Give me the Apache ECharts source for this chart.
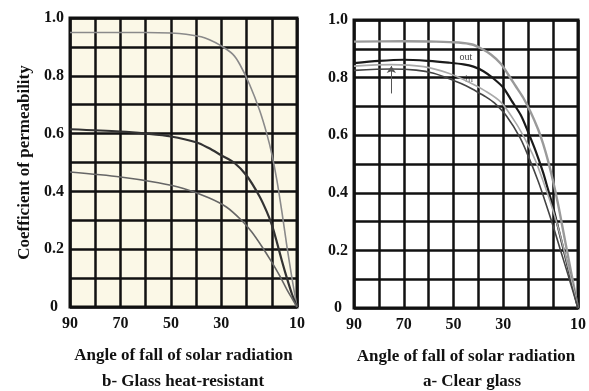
<!DOCTYPE html>
<html><head><meta charset="utf-8">
<script src="https://cdn.jsdelivr.net/npm/echarts@6/dist/echarts.min.js"></script>
<style>html,body{margin:0;padding:0;background:#fff}#c{width:589px;height:391px}</style>
</head><body><div id="c"></div>
<script>
// Tick labels
const xTickValues = [90, 70, 50, 30, 0];
const xTickTexts  = ['90', '70', '50', '30', '10'];
const yTickValues = [0, 0.2, 0.4, 0.6, 0.8, 1.0];
const yTickTexts  = ['0', '0.2', '0.4', '0.6', '0.8', '1.0'];

// Panel b - Glass heat-resistant
const b1X = [90, 60, 50, 44, 38, 34.7, 30.7, 25.5, 22.7, 18.8, 14.8, 12, 10, 8, 6, 4, 2, 0];
const b1Y = [0.95, 0.95, 0.948, 0.944, 0.935, 0.925, 0.907, 0.875, 0.84, 0.77, 0.68, 0.60, 0.53, 0.44, 0.33, 0.21, 0.10, 0];
const b2X = [90, 70, 60, 50, 40, 35, 30, 25, 20, 15, 12, 10, 8, 6, 4, 2, 0];
const b2Y = [0.615, 0.607, 0.60, 0.59, 0.57, 0.55, 0.525, 0.50, 0.455, 0.385, 0.33, 0.285, 0.225, 0.16, 0.10, 0.045, 0];
const b3X = [90, 70, 55, 45, 35, 28, 22, 18, 14, 10, 7, 4, 2, 0];
const b3Y = [0.467, 0.45, 0.43, 0.41, 0.378, 0.346, 0.30, 0.26, 0.21, 0.155, 0.11, 0.06, 0.03, 0];

// Panel a - Clear glass
const a1X = [90, 70, 57, 48, 42.5, 38.7, 35, 31, 28, 25, 22, 19, 16, 14, 12, 10, 8, 6, 4, 2, 0];
const a1Y = [0.925, 0.926, 0.925, 0.922, 0.915, 0.90, 0.88, 0.848, 0.81, 0.77, 0.73, 0.68, 0.62, 0.57, 0.51, 0.44, 0.36, 0.27, 0.18, 0.09, 0];
const a2X = [90, 80, 70, 60, 52, 46, 42, 38, 34, 30, 26.7, 23, 20, 17, 14, 12, 10, 8, 6, 4, 2, 0];
const a2Y = [0.85, 0.858, 0.862, 0.858, 0.852, 0.846, 0.838, 0.822, 0.797, 0.765, 0.72, 0.67, 0.61, 0.545, 0.47, 0.41, 0.35, 0.28, 0.21, 0.14, 0.07, 0];
const a3X = [90, 75, 65, 58, 50, 45, 41.4, 37, 33.6, 28.6, 23.2, 19.4, 16, 13, 10, 7, 4, 2, 0];
const a3Y = [0.825, 0.83, 0.826, 0.815, 0.79, 0.772, 0.755, 0.733, 0.712, 0.665, 0.59, 0.515, 0.44, 0.365, 0.285, 0.20, 0.115, 0.057, 0];
const a4X = [90, 75, 62, 52, 44, 37.5, 31, 24.8, 20, 17, 14, 11, 8, 5, 2, 0];
const a4Y = [0.84, 0.845, 0.838, 0.815, 0.785, 0.755, 0.715, 0.64, 0.565, 0.51, 0.44, 0.365, 0.28, 0.18, 0.075, 0];
const arrowX = [75, 75];
const arrowY = [0.745, 0.84];

const FONT = '"Liberation Serif","Times New Roman",serif';
function pairs(xs, ys) { return xs.map((x, i) => [x, ys[i]]); }
function lookup(vals, texts, v) {
  const i = vals.findIndex(t => Math.abs(t - v) < 1e-6);
  return i < 0 ? '' : texts[i];
}
const gridLine = { show: true, lineStyle: { color: '#111', width: 2.5 } };
function mkX(gi, name) {
  return {
    gridIndex: gi, type: 'value', min: 0, max: 90, interval: 10, inverse: true,
    name: name, nameLocation: 'middle', nameGap: 40,
    nameTextStyle: { fontFamily: FONT, fontWeight: 'bold', fontSize: 17, color: '#111' },
    axisLine: { show: false }, axisTick: { show: false }, splitLine: gridLine,
    axisLabel: { showMinLabel: true, showMaxLabel: true, margin: 9, fontFamily: FONT, fontWeight: 'bold', fontSize: 16, color: '#111',
      formatter: v => lookup(xTickValues, xTickTexts, v) }
  };
}
function mkY(gi, name) {
  return {
    gridIndex: gi, type: 'value', min: 0, max: 1, interval: 0.1,
    name: name, nameLocation: 'middle', nameGap: 37, nameRotate: 90,
    nameTextStyle: { fontFamily: FONT, fontWeight: 'bold', fontSize: 17, color: '#111' },
    axisLine: { show: false }, axisTick: { show: false }, splitLine: gridLine,
    axisLabel: { showMinLabel: true, showMaxLabel: true, align: 'center', margin: 16, fontFamily: FONT, fontWeight: 'bold', fontSize: 16, color: '#111',
      formatter: v => lookup(yTickValues, yTickTexts, v) }
  };
}
function line(gi, xs, ys, color, width, extra) {
  return Object.assign({
    type: 'line', xAxisIndex: gi, yAxisIndex: gi, data: pairs(xs, ys),
    smooth: 0.3, symbol: 'none', silent: true,
    lineStyle: { color: color, width: width }
  }, extra || {});
}
const chart = echarts.init(document.getElementById('c'), null, { renderer: 'canvas' });
chart.setOption({
  animation: false,
  backgroundColor: '#fff',
  grid: [
    { left: 70, top: 18, width: 227, height: 289, show: true, backgroundColor: '#fbf8e7', borderColor: '#111', borderWidth: 3 },
    { left: 354, top: 20, width: 233, height: 288, show: true, backgroundColor: '#fff', borderColor: '#111', borderWidth: 3 }
  ],
  xAxis: [mkX(0, 'Angle of fall of solar radiation'), mkX(1, 'Angle of fall of solar radiation')],
  yAxis: [mkY(0, 'Coefficient of permeability'), mkY(1, '')],
  series: [
    line(0, b1X, b1Y, '#8a8a8a', 1.6),
    line(0, b2X, b2Y, '#333', 2.2),
    line(0, b3X, b3Y, '#666', 1.6),
    line(1, a1X, a1Y, '#9a9a9a', 2.4),
    line(1, a2X, a2Y, '#1a1a1a', 2.2),
    line(1, a4X, a4Y, '#aaa', 1.6),
    line(1, a3X, a3Y, '#444', 1.6, {
      markLine: { silent: true, symbol: ['none', 'arrow'], symbolSize: 7, label: { show: false },
        lineStyle: { color: '#555', width: 1, type: 'solid' },
        data: [[{ coord: [arrowX[0], arrowY[0]] }, { coord: [arrowX[1], arrowY[1]] }]] }
    })
  ],
  graphic: [
    { type: 'text', x: 183, y: 382, style: { text: 'b- Glass heat-resistant', font: 'bold 17px ' + FONT, fill: '#111', align: 'center', verticalAlign: 'middle' } },
    { type: 'text', x: 472, y: 382, style: { text: 'a- Clear glass', font: 'bold 17px ' + FONT, fill: '#111', align: 'center', verticalAlign: 'middle' } },
    { type: 'text', x: 466, y: 57, style: { text: 'out', font: '10px ' + FONT, fill: '#444', align: 'center', verticalAlign: 'middle' } },
    { type: 'text', x: 469, y: 79, style: { text: 'in', font: '10px ' + FONT, fill: '#666', align: 'center', verticalAlign: 'middle' } }
  ]
});
</script></body></html>
